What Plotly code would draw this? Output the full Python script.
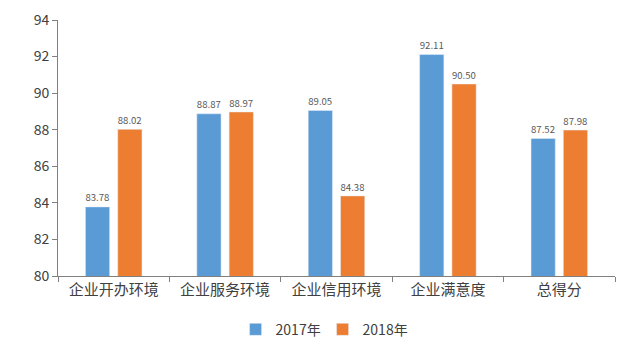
import plotly.graph_objects as go

categories = ["企业开办环境", "企业服务环境", "企业信用环境", "企业满意度", "总得分"]
v2017 = [83.78, 88.87, 89.05, 92.11, 87.52]
v2018 = [88.02, 88.97, 84.38, 90.50, 87.98]
yticks = [80, 82, 84, 86, 88, 90, 92, 94]

font_family = "Noto Sans CJK SC, Noto Sans, sans-serif"

fig = go.Figure()
fig.add_trace(go.Bar(x=categories, y=v2017, name="2017年", marker_color="#5B9BD5",
                     text=[f"{v:.2f}" for v in v2017], textposition="outside",
                     textfont=dict(size=12, color="#595959"), cliponaxis=False))
fig.add_trace(go.Bar(x=categories, y=v2018, name="2018年", marker_color="#ED7D31",
                     text=[f"{v:.2f}" for v in v2018], textposition="outside",
                     textfont=dict(size=12, color="#595959"), cliponaxis=False))

fig.update_layout(
    width=640, height=352,
    margin=dict(l=58, r=25, t=20, b=76, autoexpand=False),
    plot_bgcolor="white", paper_bgcolor="white",
    barmode="group", bargap=0.42, bargroupgap=0.25,
    font=dict(family=font_family, color="#404040"),
    legend=dict(orientation="h", x=0.475, xanchor="center", y=-0.21, yanchor="middle",
                font=dict(size=14, color="#404040"), itemwidth=30,
                entrywidth=42, entrywidthmode="pixels"),
    showlegend=True,
)
fig.update_yaxes(range=[80, 94], tickvals=yticks, showgrid=False, showline=True,
                 linecolor="#808080", linewidth=1, ticks="outside", ticklen=5,
                 tickcolor="#808080", tickfont=dict(size=14, color="#404040"), zeroline=False)
fig.update_xaxes(showgrid=False, showline=True, linecolor="#808080", linewidth=1,
                 ticks="outside", ticklen=5, tickcolor="#808080", tickson="boundaries",
                 tickfont=dict(size=15, color="#404040"))

fig.write_html("out.html")
